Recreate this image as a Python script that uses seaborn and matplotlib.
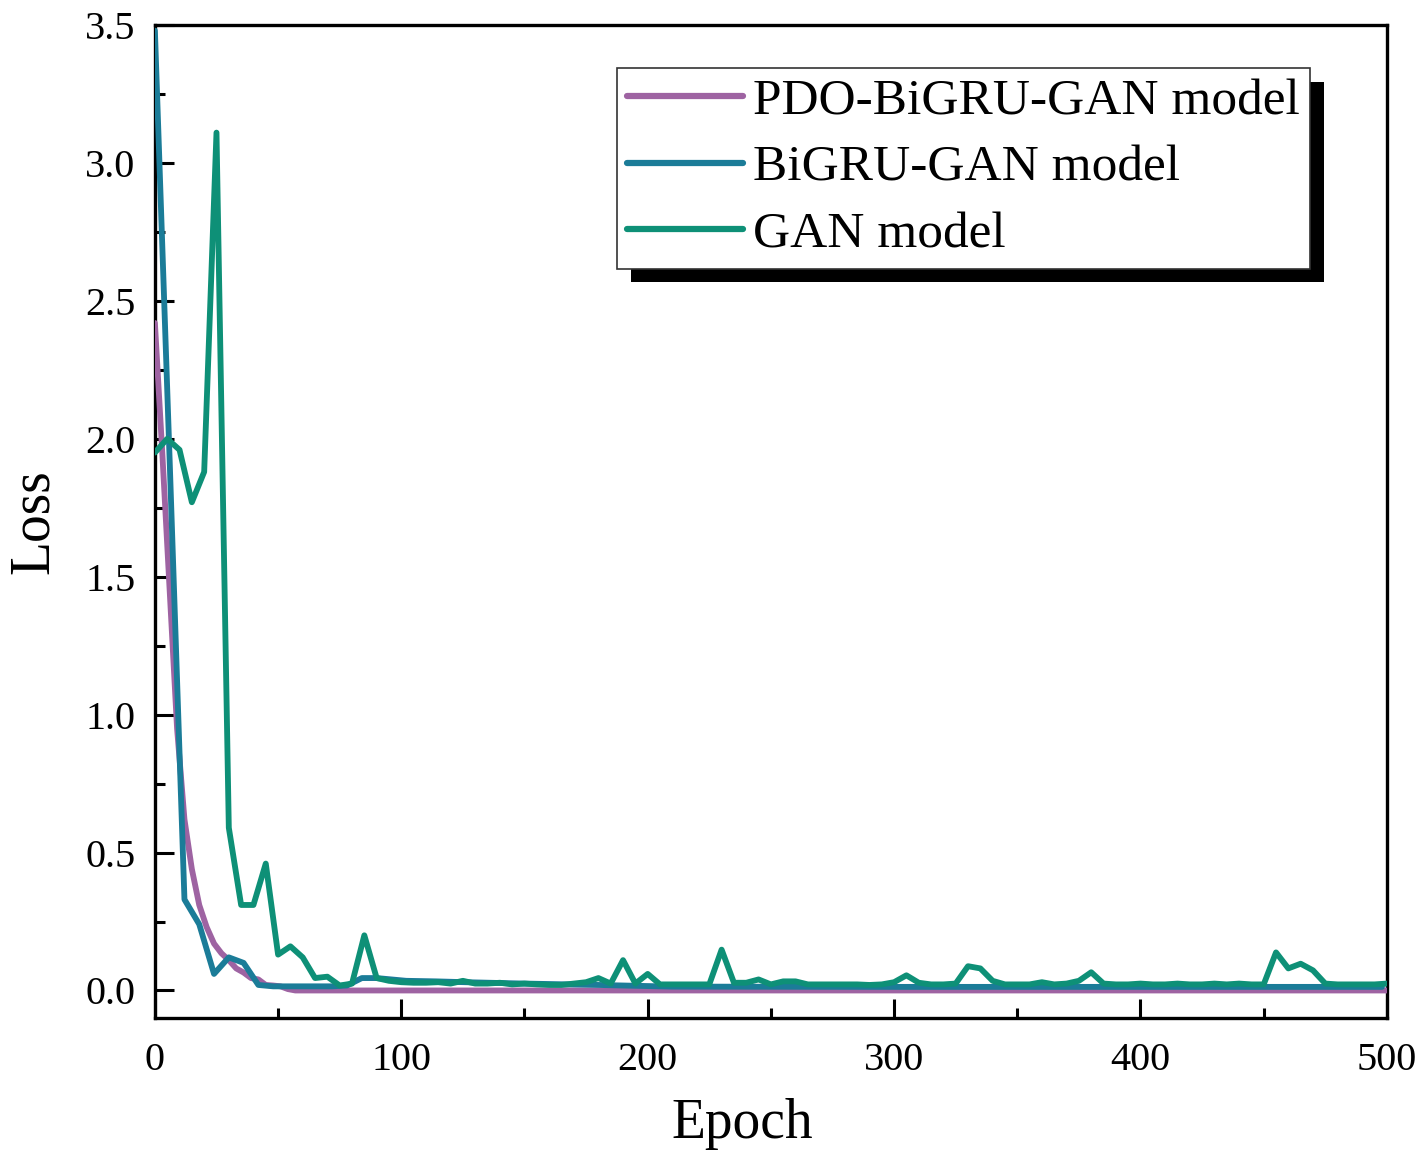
import pandas as pd
import matplotlib
matplotlib.use("Agg")
import matplotlib.pyplot as plt
import matplotlib.patheffects as pe
from matplotlib.ticker import MultipleLocator
import seaborn as sns

# ---- data ----
gan_epochs = list(range(0, 505, 5))
gan_loss = [
    1.95, 2.00, 1.96, 1.77, 1.88, 3.11, 0.59, 0.31, 0.31, 0.46,   # 0-45
    0.13, 0.16, 0.12, 0.045, 0.05, 0.018, 0.025, 0.20, 0.045, 0.035,  # 50-95
    0.03, 0.028, 0.028, 0.03, 0.025, 0.035, 0.025, 0.025, 0.028, 0.022,  # 100-145
    0.025, 0.022, 0.02, 0.02, 0.025, 0.03, 0.045, 0.025, 0.11, 0.025,  # 150-195
    0.06, 0.022, 0.022, 0.022, 0.022, 0.022, 0.148, 0.028, 0.028, 0.04,  # 200-245
    0.022, 0.033, 0.033, 0.022, 0.022, 0.022, 0.022, 0.022, 0.02, 0.022,  # 250-295
    0.03, 0.055, 0.028, 0.022, 0.022, 0.025, 0.088, 0.08, 0.035, 0.022,  # 300-345
    0.022, 0.022, 0.03, 0.022, 0.025, 0.035, 0.066, 0.025, 0.022, 0.022,  # 350-395
    0.025, 0.022, 0.022, 0.025, 0.022, 0.022, 0.025, 0.022, 0.025, 0.022,  # 400-445
    0.022, 0.138, 0.08, 0.097, 0.073, 0.025, 0.022, 0.022, 0.022, 0.022,  # 450-495
    0.025,  # 500
]

bigru_epochs = [0, 6, 12, 18, 24, 30, 36, 42, 48, 60, 72, 78, 84, 90, 102,
                114, 126, 150, 180, 210, 300, 400, 498]
bigru_loss = [3.48, 1.92, 0.33, 0.24, 0.06, 0.12, 0.10, 0.02, 0.015, 0.015,
              0.015, 0.018, 0.045, 0.045, 0.035, 0.033, 0.03, 0.025, 0.02,
              0.014, 0.013, 0.013, 0.013]

pdo_epochs = [0, 3, 6, 9, 12, 15, 18, 21, 24, 27, 30, 33, 36, 39, 42, 45,
              48, 51, 54, 57, 60, 100, 200, 300, 400, 500]
pdo_loss = [2.42, 1.95, 1.45, 0.95, 0.62, 0.44, 0.31, 0.23, 0.17, 0.135,
            0.11, 0.08, 0.065, 0.045, 0.04, 0.02, 0.018, 0.015, 0.005, 0.0,
            0.0, 0.0, 0.0, 0.0, 0.0, 0.0]

labels = ["PDO-BiGRU-GAN model", "BiGRU-GAN model", "GAN model"]
colors = ["#9E63A2", "#1B7C98", "#0E9077"]

sns.set_style("ticks")
plt.rcParams["font.family"] = ["Liberation Serif", "DejaVu Serif"]
plt.rcParams["text.color"] = "black"
plt.rcParams["axes.labelcolor"] = "black"
plt.rcParams["xtick.color"] = "black"
plt.rcParams["ytick.color"] = "black"

fig = plt.figure(figsize=(14.21, 11.54), dpi=100)
ax = fig.add_axes([0.109, 0.1178, 0.867, 0.8605])

series = [(pdo_epochs, pdo_loss), (bigru_epochs, bigru_loss), (gan_epochs, gan_loss)]
for (xs, ys), lab, col in zip(series, labels, colors):
    df = pd.DataFrame({"Epoch": xs, "Loss": ys})
    sns.lineplot(data=df, x="Epoch", y="Loss", ax=ax, color=col, lw=4.2,
                 label=lab, zorder=3)

ax.set_xlim(0, 500)
ax.set_ylim(-0.1, 3.5)
ax.xaxis.set_major_locator(MultipleLocator(100))
ax.xaxis.set_minor_locator(MultipleLocator(50))
ax.yaxis.set_major_locator(MultipleLocator(0.5))
ax.yaxis.set_minor_locator(MultipleLocator(0.25))
ax.yaxis.set_major_formatter(plt.FuncFormatter(lambda v, p: f"{v:.1f}"))

ax.tick_params(which="both", direction="in", top=False, right=False,
               width=2.2, labelsize=29, colors="black")
ax.tick_params(which="major", length=14)
ax.tick_params(which="minor", length=7)
ax.tick_params(axis="x", pad=17)
ax.tick_params(axis="y", pad=14)
for s in ax.spines.values():
    s.set_linewidth(2.4)
    s.set_color("black")

ax.set_xlabel("Epoch", fontsize=40, color="black")
ax.set_ylabel("Loss", fontsize=40, labelpad=18, color="black")
ax.xaxis.set_label_coords(0.477, -0.08)

leg = ax.legend(loc="upper right", bbox_to_anchor=(0.9375, 0.9567),
                fontsize=37, frameon=True, fancybox=False, framealpha=1,
                edgecolor="#333333", handlelength=2.25, handletextpad=0.2,
                labelspacing=0.38, borderpad=0.2, borderaxespad=0)
for t in leg.get_texts():
    t.set_color("black")
leg.get_frame().set_linewidth(1.2)
leg.get_frame().set_path_effects([
    pe.SimplePatchShadow(offset=(10, -10), shadow_rgbFace="black", alpha=1.0),
    pe.Normal(),
])
for line in leg.get_lines():
    line.set_linewidth(4.5)

fig.savefig("out.png", dpi=100)
